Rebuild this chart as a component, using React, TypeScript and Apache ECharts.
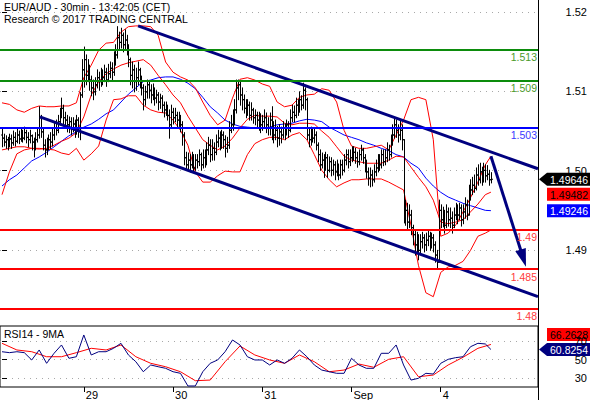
import React, { useEffect, useRef } from "react";
import * as echarts from "echarts";

// ---------------- data ----------------
const titleText = "EUR/AUD - 30min - 13:42:05 (CET)";
const creditText = "Research © 2017 TRADING CENTRAL";
const rsiTitle = "RSI14 - 9MA";

// bar index of each day start (30 min bars)
const dayStartBars = [44, 92, 140, 188, 236];
const dayLabels = ["29", "30", "31", "Sep", "4"];

const firstOpen = 1.5021;
const closes = [
  1.5017,1.5012,1.5015,1.5008,1.5016,1.5011,1.5018,1.5013,1.5021,1.5016,
  1.5022,1.5017,1.5024,1.5018,1.5015,1.5020,1.5012,1.5007,1.5015,1.5021,
  1.5043,1.5025,1.5008,1.5002,1.5007,1.5015,1.5012,1.5021,1.5030,1.5027,
  1.5038,1.5046,1.5055,1.5043,1.5040,1.5034,1.5038,1.5030,1.5035,1.5027,
  1.5040,1.5030,1.5072,1.5104,1.5117,1.5097,1.5106,1.5091,1.5081,1.5076,
  1.5085,1.5094,1.5089,1.5097,1.5094,1.5101,1.5091,1.5099,1.5106,1.5101,
  1.5114,1.5123,1.5145,1.5139,1.5148,1.5136,1.5142,1.5132,1.5117,1.5097,
  1.5104,1.5089,1.5094,1.5104,1.5091,1.5081,1.5066,1.5076,1.5085,1.5078,
  1.5072,1.5078,1.5068,1.5072,1.5063,1.5068,1.5059,1.5053,1.5055,1.5046,
  1.5034,1.5050,1.5043,1.5046,1.5040,1.5043,1.5034,1.5021,1.4992,1.4983,
  1.4989,1.4983,1.4992,1.4979,1.4989,1.4987,1.4996,1.4983,1.4992,1.4987,
  1.5002,1.5008,1.4996,1.5004,1.4999,1.5012,1.5017,1.5008,1.5021,1.5015,
  1.5004,1.5008,1.5027,1.5034,1.5040,1.5053,1.5081,1.5085,1.5072,1.5066,
  1.5055,1.5050,1.5059,1.5046,1.5053,1.5043,1.5046,1.5040,1.5043,1.5034,
  1.5038,1.5043,1.5034,1.5030,1.5040,1.5030,1.5021,1.5027,1.5017,1.5025,
  1.5021,1.5030,1.5025,1.5034,1.5027,1.5043,1.5050,1.5046,1.5059,1.5053,
  1.5066,1.5059,1.5078,1.5066,1.5021,1.5015,1.5025,1.5017,1.5021,1.5008,
  1.4996,1.4983,1.4989,1.4979,1.4992,1.4976,1.4987,1.4976,1.4983,1.4974,
  1.4979,1.4970,1.4983,1.4976,1.4989,1.4996,1.4987,1.4992,1.4996,1.4999,
  1.4992,1.4987,1.4996,1.5002,1.4992,1.4983,1.4974,1.4966,1.4970,1.4964,
  1.4974,1.4979,1.4989,1.4983,1.4996,1.4987,1.4992,1.5002,1.4996,1.5012,
  1.5021,1.5034,1.5027,1.5021,1.5027,1.5015,1.4919,1.4925,1.4910,1.4919,
  1.4903,1.4894,1.4881,1.4887,1.4874,1.4885,1.4890,1.4881,1.4887,1.4892,
  1.4885,1.4890,1.4881,1.4868,1.4859,1.4925,1.4913,1.4919,1.4906,1.4923,
  1.4913,1.4915,1.4906,1.4919,1.4925,1.4919,1.4928,1.4913,1.4923,1.4932,
  1.4919,1.4945,1.4951,1.4957,1.4953,1.4970,1.4964,1.4974,1.4966,1.4976,
  1.4969,1.4971,1.4964,1.49646,
];
const highs = [
  1.5030,1.5022,1.5020,1.5018,1.5022,1.5021,1.5026,1.5024,1.5030,1.5026,
  1.5030,1.5027,1.5031,1.5027,1.5024,1.5027,1.5021,1.5017,1.5024,1.5030,
  1.5057,1.5046,1.5030,1.5015,1.5017,1.5021,1.5024,1.5030,1.5038,1.5040,
  1.5046,1.5055,1.5068,1.5059,1.5050,1.5046,1.5044,1.5043,1.5043,1.5040,
  1.5046,1.5043,1.5075,1.5117,1.5133,1.5123,1.5117,1.5110,1.5096,1.5091,
  1.5094,1.5104,1.5101,1.5106,1.5104,1.5110,1.5106,1.5111,1.5114,1.5113,
  1.5127,1.5136,1.5159,1.5152,1.5157,1.5151,1.5155,1.5148,1.5136,1.5119,
  1.5114,1.5110,1.5106,1.5114,1.5106,1.5096,1.5085,1.5083,1.5091,1.5089,
  1.5085,1.5086,1.5081,1.5078,1.5075,1.5073,1.5071,1.5063,1.5063,1.5059,
  1.5053,1.5059,1.5055,1.5055,1.5050,1.5050,1.5046,1.5038,1.5024,1.4999,
  1.4998,1.4996,1.4999,1.4996,1.4996,1.4996,1.5002,1.4998,1.5002,1.5002,
  1.5011,1.5018,1.5015,1.5015,1.5011,1.5021,1.5027,1.5025,1.5027,1.5025,
  1.5020,1.5018,1.5038,1.5046,1.5053,1.5066,1.5091,1.5091,1.5089,1.5081,
  1.5072,1.5066,1.5066,1.5063,1.5062,1.5055,1.5053,1.5050,1.5050,1.5048,
  1.5046,1.5053,1.5049,1.5043,1.5049,1.5057,1.5038,1.5040,1.5032,1.5034,
  1.5031,1.5038,1.5035,1.5040,1.5038,1.5053,1.5059,1.5058,1.5068,1.5066,
  1.5076,1.5071,1.5087,1.5081,1.5068,1.5030,1.5031,1.5030,1.5030,1.5025,
  1.5011,1.5002,1.4998,1.4996,1.4999,1.4996,1.4993,1.4992,1.4989,1.4987,
  1.4989,1.4984,1.4989,1.4989,1.4996,1.5002,1.5002,1.5002,1.5006,1.5006,
  1.5004,1.4999,1.5002,1.5008,1.5004,1.4996,1.4989,1.4979,1.4979,1.4976,
  1.4983,1.4989,1.4996,1.4996,1.5002,1.5002,1.5002,1.5011,1.5008,1.5021,
  1.5034,1.5043,1.5040,1.5034,1.5040,1.5034,1.5015,1.4938,1.4934,1.4932,
  1.4925,1.4906,1.4900,1.4897,1.4894,1.4894,1.4897,1.4894,1.4896,1.4900,
  1.4897,1.4896,1.4894,1.4885,1.4874,1.4938,1.4932,1.4929,1.4925,1.4932,
  1.4928,1.4928,1.4923,1.4928,1.4934,1.4932,1.4934,1.4932,1.4932,1.4941,
  1.4938,1.4957,1.4964,1.4967,1.4970,1.4979,1.4983,1.4985,1.4980,1.4985,
  1.4983,1.4982,1.4976,1.4973,
];
const lows = [
  1.5006,1.5007,1.5004,1.5002,1.5006,1.5004,1.5008,1.5007,1.5011,1.5010,
  1.5013,1.5012,1.5015,1.5011,1.5006,1.5011,1.5002,1.4993,1.5002,1.5012,
  1.5017,1.5018,1.5002,1.4993,1.4996,1.5002,1.5004,1.5007,1.5015,1.5021,
  1.5024,1.5034,1.5043,1.5034,1.5030,1.5025,1.5024,1.5021,1.5025,1.5018,
  1.5022,1.5018,1.5015,1.5069,1.5082,1.5085,1.5089,1.5078,1.5071,1.5066,
  1.5072,1.5081,1.5078,1.5083,1.5085,1.5089,1.5083,1.5089,1.5094,1.5091,
  1.5097,1.5110,1.5119,1.5129,1.5132,1.5127,1.5129,1.5123,1.5108,1.5085,
  1.5081,1.5076,1.5078,1.5085,1.5081,1.5072,1.5053,1.5059,1.5068,1.5068,
  1.5062,1.5066,1.5059,1.5062,1.5053,1.5055,1.5050,1.5044,1.5046,1.5040,
  1.5017,1.5030,1.5035,1.5038,1.5030,1.5032,1.5025,1.5008,1.4983,1.4976,
  1.4976,1.4974,1.4979,1.4974,1.4976,1.4979,1.4982,1.4976,1.4979,1.4980,
  1.4983,1.4996,1.4987,1.4989,1.4989,1.4996,1.5006,1.5002,1.5004,1.5004,
  1.4993,1.4999,1.5004,1.5024,1.5027,1.5034,1.5049,1.5066,1.5059,1.5053,
  1.5049,1.5043,1.5046,1.5040,1.5040,1.5036,1.5034,1.5030,1.5027,1.5024,
  1.5027,1.5030,1.5024,1.5021,1.5021,1.5015,1.5011,1.5015,1.5006,1.5008,
  1.5011,1.5017,1.5015,1.5021,1.5018,1.5025,1.5038,1.5038,1.5043,1.5046,
  1.5050,1.5053,1.5055,1.5053,1.5015,1.5006,1.5008,1.5012,1.5011,1.5002,
  1.4987,1.4976,1.4979,1.4967,1.4976,1.4967,1.4974,1.4969,1.4970,1.4964,
  1.4969,1.4964,1.4966,1.4970,1.4974,1.4983,1.4979,1.4982,1.4987,1.4989,
  1.4985,1.4980,1.4983,1.4989,1.4985,1.4974,1.4966,1.4957,1.4955,1.4956,
  1.4961,1.4969,1.4974,1.4976,1.4979,1.4982,1.4983,1.4987,1.4989,1.4993,
  1.5008,1.5017,1.5018,1.5012,1.5015,1.5002,1.4909,1.4906,1.4900,1.4903,
  1.4894,1.4881,1.4868,1.4872,1.4862,1.4871,1.4877,1.4872,1.4874,1.4880,
  1.4874,1.4877,1.4872,1.4859,1.4852,1.4859,1.4903,1.4904,1.4896,1.4903,
  1.4905,1.4903,1.4896,1.4903,1.4913,1.4908,1.4913,1.4905,1.4908,1.4915,
  1.4913,1.4919,1.4938,1.4945,1.4948,1.4951,1.4957,1.4960,1.4957,1.4961,
  1.4961,1.4964,1.4957,1.4960,
];

// indicators, one reading every 4 bars, the last one on the last bar
const indicatorStep = 4;
const bbUpper = [
  1.5062,1.5060,1.5053,1.5050,1.5055,1.5058,1.5057,1.5057,1.5058,1.5058,
  1.5062,1.5094,1.5110,1.5129,1.5138,1.5139,1.5152,1.5159,1.5160,1.5160,
  1.5159,1.5148,1.5114,1.5101,1.5095,1.5091,1.5081,1.5063,1.5046,1.5034,
  1.5040,1.5068,1.5092,1.5094,1.5091,1.5086,1.5083,1.5063,1.5057,1.5059,
  1.5069,1.5072,1.5073,1.5080,1.5078,1.5063,1.5027,1.5007,1.5004,1.5004,
  1.5006,1.5008,1.5002,1.5021,1.5040,1.5066,1.5069,1.5066,1.5015,1.4892,
  1.4896,1.4906,1.4923,1.4941,1.4961,1.4983,1.4994,
];
const bbMiddle = [
  1.5002,1.5004,1.5006,1.5006,1.5004,1.5003,1.5004,1.5008,1.5013,1.5017,
  1.5024,1.5044,1.5072,1.5089,1.5099,1.5105,1.5110,1.5113,1.5115,1.5117,
  1.5110,1.5097,1.5085,1.5072,1.5062,1.5045,1.5030,1.5015,1.5008,1.5002,
  1.5007,1.5017,1.5030,1.5041,1.5046,1.5045,1.5045,1.5044,1.5036,1.5034,
  1.5036,1.5036,1.5035,1.5026,1.5018,1.5006,1.4994,1.4989,1.4987,1.4985,
  1.4985,1.4985,1.4989,1.4994,1.4993,1.4980,1.4967,1.4955,1.4938,1.4910,
  1.4908,1.4910,1.4913,1.4923,1.4933,1.4945,1.49482,
];
const bbLower = [
  1.4945,1.4974,1.4997,1.5002,1.5004,1.5004,1.5003,1.5002,1.4998,1.4996,
  1.5004,1.4989,1.4997,1.5007,1.5040,1.5066,1.5067,1.5071,1.5071,1.5059,
  1.5053,1.5050,1.5049,1.5040,1.5027,1.5008,1.4974,1.4961,1.4961,1.4969,
  1.4975,1.4974,1.4974,1.4996,1.5010,1.5015,1.5018,1.5018,1.5015,1.5021,
  1.5024,1.5015,1.4996,1.4976,1.4964,1.4955,1.4960,1.4964,1.4964,1.4965,
  1.4965,1.4965,1.4961,1.4956,1.4951,1.4906,1.4855,1.4820,1.4815,1.4846,
  1.4853,1.4855,1.4860,1.4874,1.4892,1.4896,1.4900,
];
const maBlue = [
  1.4956,1.4964,1.4970,1.4979,1.4988,1.4993,1.4999,1.5006,1.5013,1.5020,
  1.5025,1.5031,1.5035,1.5041,1.5048,1.5053,1.5063,1.5073,1.5081,1.5089,
  1.5091,1.5094,1.5095,1.5095,1.5092,1.5087,1.5080,1.5069,1.5057,1.5049,
  1.5040,1.5035,1.5032,1.5031,1.5030,1.5030,1.5031,1.5034,1.5035,1.5036,
  1.5039,1.5041,1.5040,1.5038,1.5031,1.5026,1.5021,1.5018,1.5015,1.5011,
  1.5008,1.5004,1.5001,1.4996,1.4993,1.4985,1.4979,1.4966,1.4956,1.4948,
  1.4942,1.4938,1.4934,1.4931,1.4928,1.4925,1.49246,
];

const rsiStep = 4;
const rsi14 = [
  58.4,57.4,58.4,57.4,49.5,60.3,45.9,56.7,65.7,51.3,
  53.0,76.5,54.9,58.4,58.4,62.1,67.5,54.9,47.6,36.8,
  44.1,42.2,40.5,36.8,35.1,21.4,21.4,36.8,45.9,49.5,
  58.4,71.1,65.7,53.0,49.5,49.5,44.1,49.5,45.9,51.3,
  60.3,53.0,44.1,38.6,36.8,35.1,35.1,51.3,44.1,40.5,
  40.5,56.7,56.7,65.7,44.1,27.8,29.7,35.1,34.3,45.9,
  50.2,52.0,53.0,63.8,67.5,66.8,60.8254,
];
const rsiMaStep = 8;
const rsiMa9 = [
  67.5,60.3,58.4,53.0,53.0,57.4,62.1,60.3,65.7,53.0,
  45.9,42.2,36.8,27.1,27.8,47.6,64.6,54.9,49.5,45.9,
  54.9,47.6,36.8,38.6,45.1,41.6,50.2,53.0,31.4,33.2,
  44.1,52.4,62.1,66.2628,
];
const rsiTicks = [30, 50, 70];

const levelValues = [1.513, 1.509, 1.503, 1.49, 1.485, 1.48];
const levelTexts = ["1.513", "1.509", "1.503", "1.49", "1.485", "1.48"];

// channel and projection lines: [bar index, price]
const channelUpper = [[73.2, 1.516], [288.3, 1.4978]];
const channelLower = [[20.4, 1.5044], [288.3, 1.4815]];
const projection = [[263, 1.4994], [280.4, 1.4864]];

// ---------------- styles ----------------
const FONT = '"Liberation Sans", Arial, Helvetica, sans-serif';
const levelLineColors = ["#0c8c0c", "#0c8c0c", "#0000ff", "#ff0000", "#ff0000", "#ff0000"];
const levelLabelColors = ["#4a9a2a", "#4a9a2a", "#3a3aff", "#ff3a3a", "#ff3a3a", "#ff3a3a"];
const NAVY = "#00007f";

export default function App() {
  const ref = useRef<HTMLDivElement>(null);

  useEffect(() => {
    if (!ref.current) return;
    const chart = echarts.init(ref.current, undefined, { renderer: "svg" });
    const lastBar = closes.length - 1;
    const ohlc = closes.map((c, i) => [i, i === 0 ? firstOpen : closes[i - 1], c, lows[i], highs[i]]);
    const sampled = (arr: number[], step: number) =>
      arr.map((v, i) => [i === arr.length - 1 ? lastBar : i * step, v]);
    const xMin = -1.076;
    const xMax = 288.32;
    const dotted = { color: "#a8a8a8", type: [1, 5], width: 1 };
    const thinLine = (name: string, data: any, color: string, xi = 0, z = 2, extra: any = {}) => ({
      name,
      type: "line",
      xAxisIndex: xi,
      yAxisIndex: xi,
      data,
      symbol: "none",
      silent: true,
      z,
      lineStyle: { color, width: 1 },
      ...extra,
    });

    const option: any = {
      animation: false,
      grid: [
        { left: 0, top: 0, width: 538, height: 320 },
        { left: 0, top: 12, width: 538, height: 238 },
        {
          left: 0, top: 326, width: 538, height: 61, show: true,
          borderColor: "#000", borderWidth: 1, backgroundColor: "transparent",
        },
      ],
      xAxis: [
        { gridIndex: 0, type: "value", min: xMin, max: xMax, show: false },
        { gridIndex: 1, type: "value", min: xMin, max: xMax, show: false },
        {
          gridIndex: 2, type: "value", min: xMin, max: xMax, position: "bottom",
          axisLine: { show: false },
          axisTick: { show: true, customValues: dayStartBars, length: 5, lineStyle: { color: "#000" } },
          axisLabel: {
            show: true, customValues: dayStartBars,
            formatter: (v: number) => {
              const i = dayStartBars.indexOf(Math.round(v));
              return i >= 0 ? dayLabels[i] : "";
            },
            align: "left", padding: [0, 0, 0, 2], margin: 2,
            color: "#000", fontSize: 11, fontFamily: FONT,
          },
          splitLine: { show: false },
        },
      ],
      yAxis: [
        {
          gridIndex: 0, type: "value", min: 1.47853, max: 1.5193, position: "right",
          axisLine: { show: false }, axisTick: { show: false }, axisLabel: { show: false }, splitLine: { show: false },
        },
        {
          gridIndex: 1, type: "value", min: 1.49, max: 1.52, interval: 0.01, position: "right",
          axisLine: { show: false },
          axisTick: { show: true, length: 5, lineStyle: { color: "#000" } },
          axisLabel: {
            color: "#000", fontSize: 11, fontFamily: FONT, align: "right", margin: 49,
            formatter: (v: number) => v.toFixed(2),
          },
          splitLine: { show: true, lineStyle: dotted },
        },
        {
          gridIndex: 2, type: "value", min: 20.3, max: 86.2, position: "right",
          axisLine: { show: false },
          axisTick: { show: true, customValues: rsiTicks, length: 5, lineStyle: { color: "#000" } },
          axisLabel: {
            customValues: rsiTicks, color: "#000", fontSize: 11, fontFamily: FONT, align: "right", margin: 49,
            formatter: (v: number) => String(Math.round(v)),
          },
          splitLine: { show: true, lineStyle: dotted },
        },
      ],
      series: [
        thinLine("MA", sampled(maBlue, indicatorStep), "#0000ff", 0, 2, {
          markLine: {
            silent: true, symbol: "none", animation: false, precision: 5,
            data: levelValues.map((v, i) => ({
              yAxis: v,
              lineStyle: { color: levelLineColors[i], width: 2, type: "solid" },
              label: {
                show: true, position: "insideEndBottom", formatter: levelTexts[i],
                color: levelLabelColors[i], fontSize: 10.5, fontFamily: FONT, distance: [1, 2],
              },
            })),
          },
        }),
        thinLine("BB upper", sampled(bbUpper, indicatorStep), "#ff0000"),
        thinLine("BB middle", sampled(bbMiddle, indicatorStep), "#ff0000"),
        thinLine("BB lower", sampled(bbLower, indicatorStep), "#ff0000"),
        {
          name: "EUR/AUD",
          type: "custom",
          xAxisIndex: 0,
          yAxisIndex: 0,
          z: 3,
          silent: true,
          encode: { x: 0, y: [1, 2, 3, 4] },
          data: ohlc,
          renderItem: (params: any, api: any) => {
            const k = api.value(0);
            const pO = api.coord([k, api.value(1)]);
            const pC = api.coord([k, api.value(2)]);
            const pL = api.coord([k, api.value(3)]);
            const pH = api.coord([k, api.value(4)]);
            const x = Math.round(pH[0]) + 0.5;
            const st = { stroke: "#000", lineWidth: 1 };
            return {
              type: "group",
              children: [
                { type: "line", shape: { x1: x, y1: pH[1] - 0.5, x2: x, y2: pL[1] + 0.5 }, style: st },
                { type: "line", shape: { x1: x - 1.5, y1: pO[1], x2: x, y2: pO[1] }, style: st },
                { type: "line", shape: { x1: x, y1: pC[1], x2: x + 1.5, y2: pC[1] }, style: st },
              ],
            };
          },
        },
        {
          name: "Channel top", type: "line", xAxisIndex: 0, yAxisIndex: 0, z: 4, silent: true,
          data: channelUpper, symbol: "none", lineStyle: { color: NAVY, width: 3 },
        },
        {
          name: "Channel bottom", type: "line", xAxisIndex: 0, yAxisIndex: 0, z: 4, silent: true,
          data: channelLower, symbol: "none", lineStyle: { color: NAVY, width: 3 },
          markLine: {
            silent: true, animation: false, precision: 5,
            symbol: ["none", "triangle"], symbolSize: [11, 18],
            lineStyle: { color: NAVY, width: 3, type: "solid" },
            itemStyle: { color: NAVY },
            label: { show: false },
            data: [[{ coord: projection[0] }, { coord: projection[1] }]],
          },
        },
        thinLine("RSI MA", sampled(rsiMa9, rsiMaStep), "#ff0000", 2),
        thinLine("RSI", sampled(rsi14, rsiStep), NAVY, 2),
      ],
    };
    chart.setOption(option);

    const py = (v: number) => chart.convertToPixel({ yAxisIndex: 0 } as any, v) as number;
    const ry = (v: number) => chart.convertToPixel({ yAxisIndex: 2 } as any, v) as number;
    const H = 13;
    const tag = (y: number, fill: string, textFill: string, text: string, arrow: boolean) => ({
      type: "group",
      z: 100,
      children: [
        arrow
          ? {
              type: "polygon",
              shape: { points: [[539, y], [547, y - H / 2], [590, y - H / 2], [590, y + H / 2], [547, y + H / 2]] },
              style: { fill },
            }
          : { type: "rect", shape: { x: 547, y: y - H / 2, width: 43, height: H }, style: { fill } },
        {
          type: "text",
          style: {
            x: 588, y: y + 0.5, text, fill: textFill, align: "right", verticalAlign: "middle",
            fontSize: 10.5, fontFamily: FONT,
          },
        },
      ],
    });
    const yLast = py(closes[lastBar]);
    const yMid = Math.max(py(bbMiddle[bbMiddle.length - 1]), yLast + H + 2);
    const yMa = Math.max(py(maBlue[maBlue.length - 1]), yMid + H + 2);
    const yRsi = ry(rsi14[rsi14.length - 1]);
    const yRsiMa = Math.min(ry(rsiMa9[rsiMa9.length - 1]), yRsi - H - 2);
    const fmt = (v: number, d: number) => v.toFixed(d);

    chart.setOption({
      graphic: [
        {
          type: "line", z: 90, silent: true,
          shape: { x1: 538.5, y1: 0, x2: 538.5, y2: 400 },
          style: { stroke: "#000", lineWidth: 1 },
        },
        {
          type: "text", left: 4, top: 1, z: 90, silent: true,
          style: { text: titleText, fill: "#000", fontSize: 10.5, fontFamily: FONT },
        },
        {
          type: "text", left: 4, top: 13, z: 90, silent: true,
          style: { text: creditText, fill: "#000", fontSize: 10.5, fontFamily: FONT },
        },
        {
          type: "text", left: 4, top: 328, z: 90, silent: true,
          style: { text: rsiTitle, fill: "#000", fontSize: 10.5, fontFamily: FONT },
        },
        tag(yLast, "#000000", "#ffffff", fmt(closes[lastBar], 5), true),
        tag(yMid, "#ff0000", "#000000", fmt(bbMiddle[bbMiddle.length - 1], 5), false),
        tag(yMa, "#0000ff", "#ffffff", fmt(maBlue[maBlue.length - 1], 5), false),
        tag(yRsiMa, "#ff0000", "#000000", fmt(rsiMa9[rsiMa9.length - 1], 4), false),
        tag(yRsi, NAVY, "#ffffff", fmt(rsi14[rsi14.length - 1], 4), true),
      ],
    });

    return () => chart.dispose();
  }, []);

  return (
    <div
      ref={ref}
      style={{ position: "absolute", left: 0, top: 0, width: 590, height: 400, background: "#fff" }}
    />
  );
}
